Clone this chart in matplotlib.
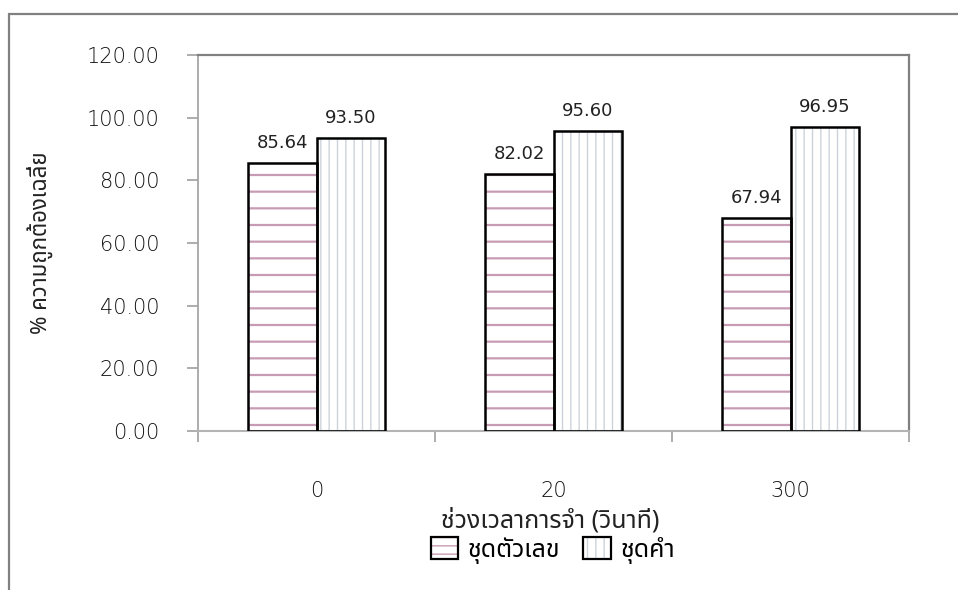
import matplotlib
matplotlib.use('Agg')
import matplotlib.pyplot as plt
from matplotlib import font_manager as fm
from matplotlib.ft2font import FT2Font
from matplotlib.patches import Patch, Rectangle
from matplotlib.legend_handler import HandlerTuple
from matplotlib.ticker import FixedLocator, FormatStrFormatter
import numpy as np

# ---------------- data ----------------
categories = ['0', '20', '300']
series_names = ['ชุดตัวเลข', 'ชุดคำ']
digits_values = [85.64, 82.02, 67.94]
words_values = [93.50, 95.60, 96.95]
y_ticks = [0, 20, 40, 60, 80, 100, 120]
x_title = 'ช่วงเวลาการจำ (วินาที)'
y_title = '% ความถูกต้องเฉลี่ย'


# ---------------- Thai font detection ----------------
def find_thai_font():
    preferred = ['Noto Sans Thai', 'Noto Sans Thai UI', 'Loma', 'Garuda', 'Tlwg Typo',
                 'Norasi', 'Waree', 'Umpush', 'Sawasdee', 'Kinnari', 'Laksaman',
                 'TH Sarabun New', 'Sarabun', 'Tahoma', 'Noto Serif Thai']
    found = {}
    for f in fm.fontManager.ttflist:
        if f.name in found:
            continue
        try:
            ft = FT2Font(f.fname)
            if ft.get_char_index(ord('ก')) and ft.get_char_index(ord('ำ')):
                found[f.name] = f.fname
        except Exception:
            pass
    for p in preferred:
        if p in found:
            return p
    if found:
        return sorted(found)[0]
    return None


thai = find_thai_font()
fam = ([thai] if thai else []) + ['DejaVu Sans']
plt.rcParams['font.family'] = ['DejaVu Sans']

W, H = 958, 590
fig = plt.figure(figsize=(W / 100, H / 100), dpi=100)

# outer chart-area border (left and top visible)
fig.patches.append(Rectangle((9 / W, -0.2), 1.5, (H - 14) / H + 0.2, transform=fig.transFigure,
                             fill=False, edgecolor='#808080', linewidth=1.6, zorder=0))

ax = fig.add_axes([198 / W, (H - 431) / H, (909 - 198) / W, (431 - 55) / H])

x = np.arange(len(categories))
bw = 0.287
stripe_col = '#c89bb4'
tex_col = '#cdd2da'

# fill layers (hatches)
plt.rcParams['hatch.linewidth'] = 1.6
b1 = ax.bar(x - bw / 2, digits_values, bw, facecolor='white', edgecolor=stripe_col,
            hatch='-', linewidth=0, zorder=2)
lh1 = Patch(facecolor='white', edgecolor=stripe_col, hatch='--', linewidth=0)
plt.rcParams['hatch.linewidth'] = 1.0
b2 = ax.bar(x + bw / 2, words_values, bw, facecolor='white', edgecolor=tex_col,
            hatch='||', linewidth=0, zorder=2)
lh2 = Patch(facecolor='white', edgecolor=tex_col, hatch='||', linewidth=0)
# outline layers
e1 = ax.bar(x - bw / 2, digits_values, bw, fill=False, edgecolor='black', linewidth=1.8, zorder=3)
e2 = ax.bar(x + bw / 2, words_values, bw, fill=False, edgecolor='black', linewidth=1.8, zorder=3)

ax.bar_label(e1, fmt='%.2f', padding=8, fontsize=13, color='#222222')
ax.bar_label(e2, fmt='%.2f', padding=8, fontsize=13, color='#222222')

ax.set_xlim(-0.5, len(categories) - 0.5)
ax.set_ylim(y_ticks[0], y_ticks[-1])
ax.yaxis.set_major_locator(FixedLocator(y_ticks))
ax.yaxis.set_major_formatter(FormatStrFormatter('%.2f'))
ax.set_xticks(x)
ax.set_xticklabels(categories)
ax.set_xticks(np.arange(len(categories) + 1) - 0.5, minor=True)

ax.tick_params(axis='x', which='major', length=0, pad=36, labelsize=15, labelcolor='#111111')
ax.tick_params(axis='x', which='minor', length=8, width=1.2, color='#a0a0a0', direction='out')
ax.tick_params(axis='y', which='major', length=8, width=1.2, color='#a0a0a0', direction='out',
               pad=20, labelsize=15, labelcolor='#111111')
for lab in ax.get_xticklabels() + ax.get_yticklabels():
    lab.set_fontweight('light')

for s in ['top', 'right']:
    ax.spines[s].set_color('#808080')
    ax.spines[s].set_linewidth(1.6)
ax.spines['left'].set_color('#a6a6a6')
ax.spines['left'].set_linewidth(1.3)
ax.spines['bottom'].set_color('#b4b4b4')
ax.spines['bottom'].set_linewidth(1.5)

fig.text(550 / W, (H - 521) / H, x_title, ha='center', va='center', fontsize=18,
         family=fam, color='#222222')
fig.text(40 / W, (H - 243) / H, y_title, ha='center', va='center', rotation=90,
         fontsize=16, family=fam, color='#222222')

h1 = (lh1, Patch(fill=False, edgecolor='black', linewidth=1.6))
h2 = (lh2, Patch(fill=False, edgecolor='black', linewidth=1.6))
fig.legend([h1, h2], series_names, loc='center', bbox_to_anchor=(553 / W, (H - 550) / H),
           ncol=2, frameon=False, handler_map={tuple: HandlerTuple(ndivide=1)},
           prop=fm.FontProperties(family=fam, size=18), handlelength=1.1, handleheight=1.0,
           columnspacing=0.9, handletextpad=0.4)

fig.savefig('out.png', dpi=100)
